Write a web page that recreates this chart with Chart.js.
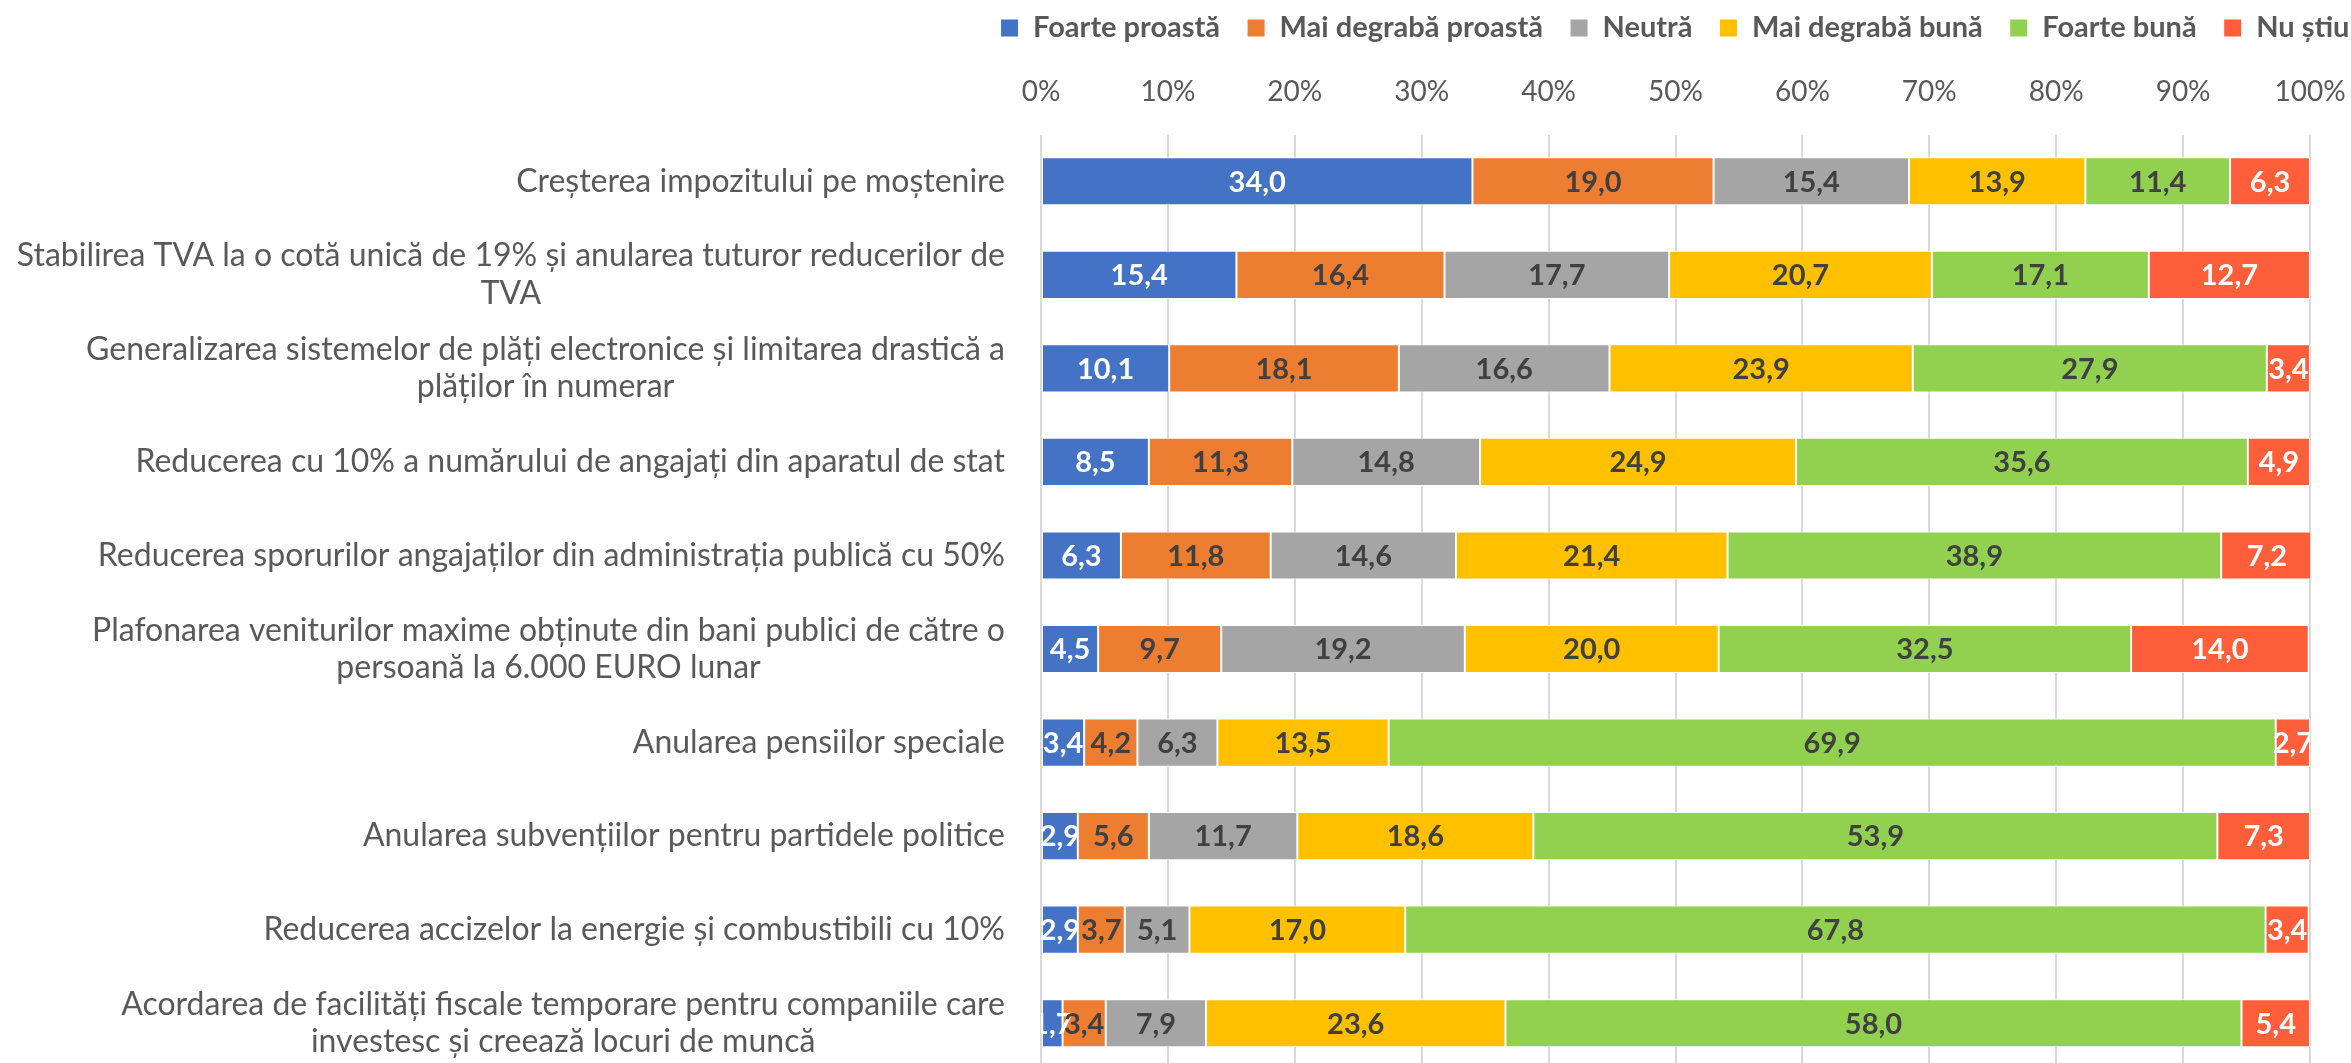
<!DOCTYPE html>
<html><head><meta charset="utf-8">
<style>html,body{margin:0;padding:0;overflow:hidden;background:#fff}
#wrap{width:3350px;height:1070px;position:relative}</style>
<script src="https://cdn.jsdelivr.net/npm/chart.js@4.4.0/dist/chart.umd.min.js"></script>
</head><body><div id="wrap"><canvas id="c"></canvas></div>
<script>
const categories = [
  ["Creșterea impozitului pe moștenire"],
  ["Stabilirea TVA la o cotă unică de 19% și anularea tuturor reducerilor de", "TVA"],
  ["Generalizarea sistemelor de plăți electronice și limitarea drastică a", "plăților în numerar"],
  ["Reducerea cu 10% a numărului de angajați din aparatul de stat"],
  ["Reducerea sporurilor angajaților din administrația publică cu 50%"],
  ["Plafonarea veniturilor maxime obținute din bani publici de către o", "persoană la 6.000 EURO lunar"],
  ["Anularea pensiilor speciale"],
  ["Anularea subvențiilor pentru partidele politice"],
  ["Reducerea accizelor la energie și combustibili cu 10%"],
  ["Acordarea de facilități fiscale temporare pentru companiile care", "investesc și creează locuri de muncă"]
];
const seriesNames = ["Foarte proastă", "Mai degrabă proastă", "Neutră", "Mai degrabă bună", "Foarte bună", "Nu știu"];
const foarteProasta     = [34.0, 15.4, 10.1,  8.5,  6.3,  4.5,  3.4,  2.9,  2.9,  1.7];
const maiDegrabaProasta = [19.0, 16.4, 18.1, 11.3, 11.8,  9.7,  4.2,  5.6,  3.7,  3.4];
const neutra            = [15.4, 17.7, 16.6, 14.8, 14.6, 19.2,  6.3, 11.7,  5.1,  7.9];
const maiDegrabaBuna    = [13.9, 20.7, 23.9, 24.9, 21.4, 20.0, 13.5, 18.6, 17.0, 23.6];
const foarteBuna        = [11.4, 17.1, 27.9, 35.6, 38.9, 32.5, 69.9, 53.9, 67.8, 58.0];
const nuStiu            = [ 6.3, 12.7,  3.4,  4.9,  7.2, 14.0,  2.7,  7.3,  3.4,  5.4];
const tickLabels = ["0%", "10%", "20%", "30%", "40%", "50%", "60%", "70%", "80%", "90%", "100%"];

const seriesData = [foarteProasta, maiDegrabaProasta, neutra, maiDegrabaBuna, foarteBuna, nuStiu];
const seriesColors = ["#4472C4", "#ED7D31", "#A5A5A5", "#FFC000", "#92D050", "#FF5E3A"];
const labelColors = ["#FFFFFF", "#404040", "#404040", "#404040", "#404040", "#FFFFFF"];

const segLabels = {
  id: 'segLabels',
  afterDatasetsDraw(chart) {
    const ctx = chart.ctx, a = chart.chartArea;
    ctx.save();
    ctx.beginPath();
    ctx.rect(a.left, a.top, a.right - a.left, a.bottom - a.top);
    ctx.clip();
    ctx.font = 'bold 29px Lato';
    ctx.textAlign = 'center';
    ctx.textBaseline = 'middle';
    chart.data.datasets.forEach((ds, di) => {
      const meta = chart.getDatasetMeta(di);
      meta.data.forEach((bar, i) => {
        const v = ds.data[i];
        ctx.fillStyle = labelColors[di];
        ctx.fillText(v.toFixed(1).replace('.', ','), (bar.x + bar.base) / 2, bar.y + 1);
      });
    });
    ctx.restore();
  }
};

const catLabels = {
  id: 'catLabels',
  afterDraw(chart) {
    const ctx = chart.ctx, ys = chart.scales.y;
    ctx.save();
    ctx.font = '32px Lato';
    ctx.fillStyle = '#595959';
    ctx.textAlign = 'center';
    ctx.textBaseline = 'middle';
    const right = chart.chartArea.left - 36;
    const lh = 37.5;
    categories.forEach((lines, i) => {
      const cy = ys.getPixelForValue(i);
      const bw = Math.max(...lines.map(l => ctx.measureText(l).width));
      const cx = right - bw / 2;
      lines.forEach((l, j) => {
        ctx.fillText(l, cx, cy + (j - (lines.length - 1) / 2) * lh);
      });
    });
    ctx.restore();
  }
};

new Chart(document.getElementById('c'), {
  type: 'bar',
  data: {
    labels: categories.map(c => c.join(' ')),
    datasets: seriesNames.map((n, i) => ({
      label: n,
      data: seriesData[i],
      backgroundColor: seriesColors[i],
      borderColor: '#FFFFFF',
      borderWidth: 1,
      borderSkipped: false,
      categoryPercentage: 1,
      barPercentage: 0.515
    }))
  },
  options: {
    indexAxis: 'y',
    responsive: true,
    maintainAspectRatio: false,
    animation: false,
    layout: { padding: { top: -13.5, left: 0, right: 0, bottom: 0 } },
    plugins: {
      legend: {
        position: 'top',
        labels: {
          font: { family: 'Lato', weight: 'bold', size: 29 },
          color: '#595959',
          boxWidth: 18,
          boxHeight: 18,
          padding: 27
        }
      },
      tooltip: { enabled: false }
    },
    scales: {
      x: {
        type: 'linear',
        position: 'top',
        stacked: true,
        min: 0, max: 100,
        ticks: {
          stepSize: 10,
          callback: (v, i) => tickLabels[i],
          color: '#595959',
          font: { family: 'Lato', size: 28 },
          padding: 25.5,
          maxRotation: 0
        },
        grid: { color: '#D9D9D9', lineWidth: 2, drawTicks: false },
        border: { display: false },
        afterFit(s) { s.height = 82; }
      },
      y: {
        type: 'category',
        position: 'left',
        stacked: true,
        ticks: { display: false },
        grid: { display: false },
        border: { display: false },
        afterFit(s) { s.width = 1041; }
      },
      yR: {
        type: 'category',
        axis: 'y',
        position: 'right',
        ticks: { display: false },
        grid: { display: false },
        border: { display: false },
        afterFit(s) { s.width = 1040; }
      }
    }
  },
  plugins: [segLabels, catLabels]
});
</script></body></html>
